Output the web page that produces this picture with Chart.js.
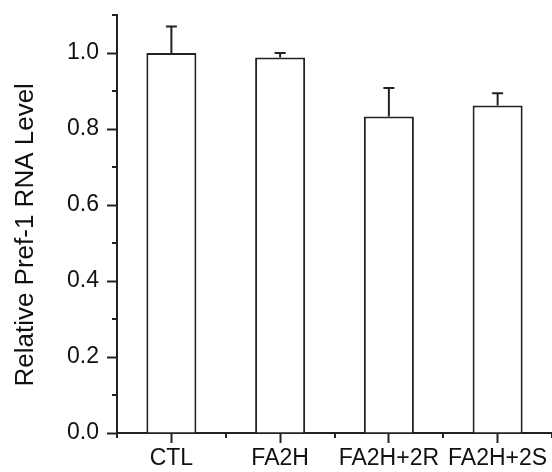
<!DOCTYPE html>
<html>
<head>
<meta charset="utf-8">
<script src="https://cdn.jsdelivr.net/npm/chart.js@4"></script>
<style>
  html, body { margin: 0; padding: 0; background: #fff; }
  #wrap { width: 552px; height: 472px; }
</style>
</head>
<body>
<div id="wrap"><canvas id="chart"></canvas></div>
<script>
// Data
const categories = ['CTL', 'FA2H', 'FA2H+2R', 'FA2H+2S']
const meanValues = [1.0, 0.988, 0.833, 0.862]
const errorValues = [0.07, 0.012, 0.075, 0.032] // upper error only
const yMajorTicks = [0, 0.2, 0.4, 0.6, 0.8, 1.0]
const yMinorTicks = [0.1, 0.3, 0.5, 0.7, 0.9, 1.1]
const xMinorTicks = [-0.5, 0.5, 1.5, 2.5, 3.5] // category boundaries

const inkColor = '#222'
const fontFamily = "Arial, 'Liberation Sans', sans-serif"

// Draws the one-sided error bars and the short minor tick marks
const extrasPlugin = {
    id: 'extras',
    afterDatasetsDraw(chart) {
        const ctx = chart.ctx
        const yScale = chart.scales.y
        const meta = chart.getDatasetMeta(0)
        ctx.save()
        ctx.strokeStyle = inkColor
        ctx.lineWidth = 2
        meta.data.forEach((bar, i) => {
            const yTop = yScale.getPixelForValue(meanValues[i] + errorValues[i])
            const yBase = yScale.getPixelForValue(meanValues[i])
            ctx.beginPath()
            ctx.moveTo(bar.x, yBase)
            ctx.lineTo(bar.x, yTop)
            ctx.moveTo(bar.x - 5.5, yTop)
            ctx.lineTo(bar.x + 5.5, yTop)
            ctx.stroke()
        })
        ctx.restore()
    },
    afterDraw(chart) {
        const ctx = chart.ctx
        const xScale = chart.scales.x
        const yScale = chart.scales.y
        const area = chart.chartArea
        ctx.save()
        ctx.strokeStyle = inkColor
        ctx.lineWidth = 2
        ctx.beginPath()
        yMinorTicks.forEach(v => {
            const y = Math.round(yScale.getPixelForValue(v))
            ctx.moveTo(area.left - 5, y)
            ctx.lineTo(area.left, y)
        })
        xMinorTicks.forEach(v => {
            const x = Math.round(xScale.getPixelForValue(v))
            ctx.moveTo(x, area.bottom)
            ctx.lineTo(x, area.bottom + 5)
        })
        ctx.stroke()
        ctx.restore()
    }
}

const data = {
    labels: categories,
    datasets: [{
        data: meanValues,
        backgroundColor: '#ffffff',
        borderColor: inkColor,
        borderWidth: 2,
        barPercentage: 0.46,
        categoryPercentage: 1.0
    }]
}

const config = {
    type: 'bar',
    data,
    options: {
        responsive: true,
        maintainAspectRatio: false,
        animation: false,
        layout: {
            padding: { top: 15, right: 0, left: 0, bottom: 0 }
        },
        scales: {
            x: {
                offset: true,
                grid: {
                    offset: false,
                    drawOnChartArea: false,
                    drawTicks: true,
                    tickLength: 10,
                    tickWidth: 2,
                    tickColor: inkColor
                },
                border: { color: inkColor, width: 2 },
                ticks: {
                    color: '#111',
                    padding: 2,
                    maxRotation: 0,
                    autoSkip: false,
                    font: { family: fontFamily, size: 23 }
                },
                afterFit: scale => { scale.height = 39 }
            },
            y: {
                min: 0,
                max: 1.1,
                afterBuildTicks: scale => {
                    scale.ticks = yMajorTicks.map(v => ({ value: v }))
                },
                grid: {
                    drawOnChartArea: false,
                    drawTicks: true,
                    tickLength: 10,
                    tickWidth: 2,
                    tickColor: inkColor
                },
                border: { color: inkColor, width: 2 },
                ticks: {
                    color: '#111',
                    padding: 8,
                    font: { family: fontFamily, size: 23 },
                    callback: value => value.toFixed(1)
                },
                title: {
                    display: true,
                    // trailing spaces nudge the rotated label down a little, as in the original
                    text: 'Relative Pref-1 RNA Level   ',
                    color: '#111',
                    padding: { top: 10, bottom: 4 },
                    font: { family: fontFamily, size: 26 }
                },
                afterFit: scale => {
                    scale.width = 117
                    // top label is 1.0, not the axis end, so no extra room is needed above
                    scale.paddingTop = 0
                }
            }
        },
        plugins: {
            legend: { display: false },
            tooltip: { enabled: false }
        }
    },
    plugins: [extrasPlugin]
}

const chart = new Chart(document.getElementById('chart'), config)
</script>
</body>
</html>
